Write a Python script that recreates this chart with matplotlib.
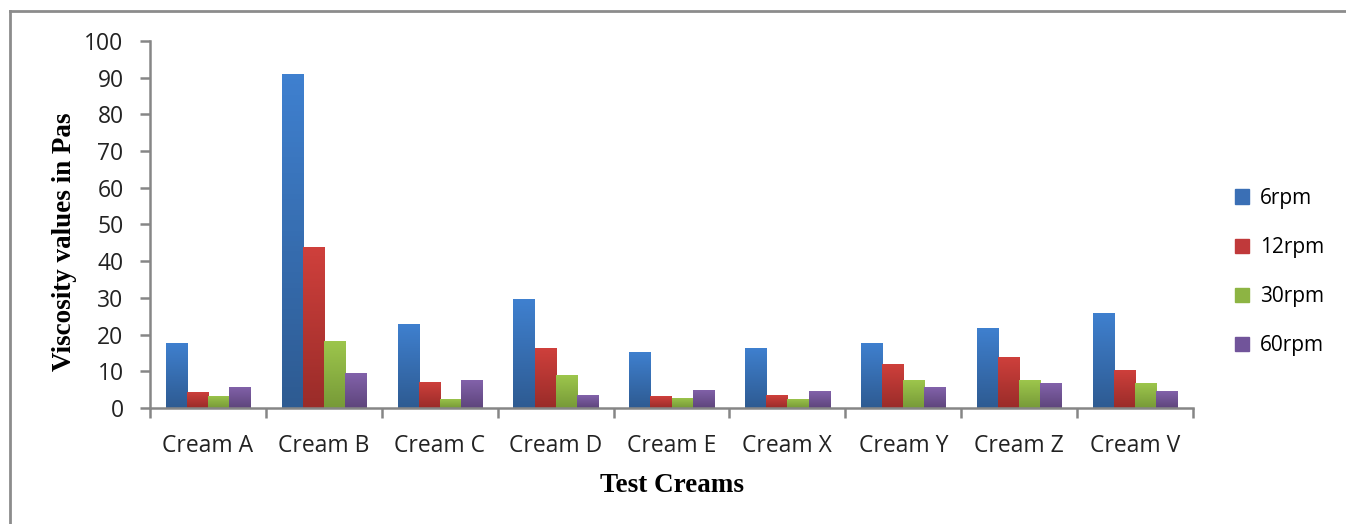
import numpy as np
import matplotlib
matplotlib.use("Agg")
import matplotlib.pyplot as plt
from matplotlib.colors import LinearSegmentedColormap
from matplotlib.lines import Line2D
from matplotlib.patches import Rectangle

# viscosity data (Pas)
creams = ["Cream A", "Cream B", "Cream C", "Cream D", "Cream E",
          "Cream X", "Cream Y", "Cream Z", "Cream V"]
speeds = ["6rpm", "12rpm", "30rpm", "60rpm"]
rpm6 = [17.8, 91.0, 22.9, 29.6, 15.3, 16.4, 17.8, 21.8, 26.0]
rpm12 = [4.4, 43.9, 7.2, 16.4, 3.2, 3.5, 12.1, 13.9, 10.4]
rpm30 = [3.3, 18.3, 2.5, 8.9, 2.8, 2.5, 7.5, 7.5, 6.8]
rpm60 = [5.8, 9.4, 7.5, 3.5, 5.0, 4.6, 5.7, 6.8, 4.6]
series = [rpm6, rpm12, rpm30, rpm60]

# top / bottom colour of each bar gradient
grads = [("#3F80CF", "#2E5B92"),
         ("#CF403C", "#9A2C29"),
         ("#9DC64C", "#779A38"),
         ("#8262AA", "#5E457C")]
legend_cols = ["#3A6FB5", "#C0393A", "#8DB443", "#71549A"]

fig = plt.figure(figsize=(13.46, 5.24), dpi=100)
ax = fig.add_axes([0.1114, 0.2214, 0.775, 0.7004])

x = np.arange(len(creams))
bw = 0.182
grad = np.linspace(1, 0, 64).reshape(-1, 1)

for i, vals in enumerate(series):
    cmap = LinearSegmentedColormap.from_list("g%d" % i, [grads[i][1], grads[i][0]])
    for xi, v in zip(x, vals):
        left = xi - 2 * bw + i * bw
        im = ax.imshow(grad, cmap=cmap, aspect="auto", vmin=0, vmax=1,
                       extent=(left, left + bw, 0, v), zorder=2)
        clip = Rectangle((left, 0), bw, v, transform=ax.transData)
        im.set_clip_path(clip)

ax.set_xlim(-0.5, len(creams) - 0.5)
ax.set_ylim(0, 100)

# axes styling
for s in ["top", "right"]:
    ax.spines[s].set_visible(False)
for s in ["left", "bottom"]:
    ax.spines[s].set_color("#868686")
    ax.spines[s].set_linewidth(1.8)

ax.set_yticks(np.arange(0, 101, 10))
ax.set_xticks(x)
ax.set_xticklabels(creams)
ax.set_xticks(np.arange(-0.5, len(creams)), minor=True)
ax.tick_params(axis="x", which="major", length=0, pad=19)
ax.tick_params(axis="x", which="minor", length=7, width=1.8, color="#868686")
ax.tick_params(axis="y", length=7, width=1.8, color="#868686", pad=12)
for lab in ax.get_xticklabels() + ax.get_yticklabels():
    lab.set_fontfamily("Open Sans")
    lab.set_fontsize(16.5)
    lab.set_color("#222222")

ax.set_xlabel("Test Creams", fontfamily="Liberation Serif", fontweight="bold",
              fontsize=19.5)
ax.set_ylabel("Viscosity values in Pas", fontfamily="Liberation Serif",
              fontweight="bold", fontsize=19.5)
ax.xaxis.set_label_coords(0.5, -0.178)
ax.yaxis.set_label_coords(-0.070, 0.452)

# legend
handles = [Rectangle((0, 0), 1, 1, color=c) for c in legend_cols]
leg = ax.legend(handles, speeds, loc="center left", bbox_to_anchor=(1.022, 0.37),
                frameon=False, handlelength=0.7, handleheight=0.7,
                handletextpad=0.5, labelspacing=1.35,
                prop={"family": "Open Sans", "size": 15})

# outer frame (left and top edges)
fig.add_artist(Line2D([10 / 1346, 10 / 1346], [0, 1 - 11 / 524],
                      transform=fig.transFigure, color="#8C8C8C", lw=2))
fig.add_artist(Line2D([10 / 1346, 1], [1 - 11 / 524, 1 - 11 / 524],
                      transform=fig.transFigure, color="#8C8C8C", lw=2))

fig.savefig("out.png", dpi=100)
